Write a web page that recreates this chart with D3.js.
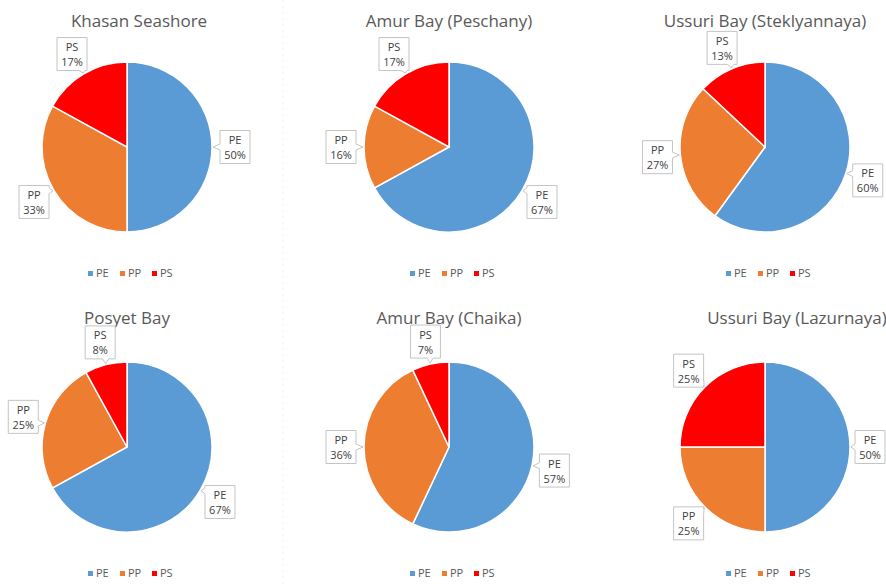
<head>
  <title>Pies</title>
  <style>
    body { margin: 0; background: white; font-family: "Open Sans", "Noto Sans", sans-serif; }
    svg .title { fill: #595959; font-size: 17px; }
    svg .lbl { fill: #404040; font-size: 11px; }
    svg .legend text { fill: #595959; font-size: 11px; }
    svg .callout { fill: white; stroke: #c4c4c4; stroke-width: 1; }
  </style>
</head>
<body>
  <div id="chart"></div>
  <script src="https://cdn.jsdelivr.net/npm/d3@7"></script>
  <script>
    // data
    const categories = ['PE', 'PP', 'PS'];
    const sites = ['Khasan Seashore', 'Amur Bay (Peschany)', 'Ussuri Bay (Steklyannaya)',
                   'Posyet Bay', 'Amur Bay (Chaika)', 'Ussuri Bay (Lazurnaya)'];
    const khasan = [50, 33, 17];
    const peschany = [67, 16, 17];
    const steklyannaya = [60, 27, 13];
    const posyet = [67, 25, 8];
    const chaika = [57, 36, 7];
    const lazurnaya = [50, 25, 25];
    const values = [khasan, peschany, steklyannaya, posyet, chaika, lazurnaya];
    const colors = ['#5b9bd5', '#ed7d31', '#ff0000'];

    // layout
    const width = 886, height = 584;
    const cols = [127, 449, 765];
    const rows = [147, 447];
    const radius = 85;
    const labelRadius = 108;
    const titleShift = [12, 0, 0, 0, 0, 32];
    const titleLift = [35, 38];

    let svg = d3.select('#chart').append('svg')
      .attr('width', width).attr('height', height);

    // faint chart border artefact
    svg.append('line')
      .attr('x1', 283).attr('x2', 283).attr('y1', 0).attr('y2', height)
      .attr('stroke', '#f0f0f0').attr('stroke-dasharray', '2,4');

    let color = d3.scaleOrdinal().domain(categories).range(colors);
    let pie = d3.pie().sort(null).value(d => d.v);
    let arc = d3.arc().innerRadius(0).outerRadius(radius);

    function calloutPath(x0, y0, w, h, tx, ty) {
      let x1 = x0 + w, y1 = y0 + h;
      let cx = x0 + w / 2, cy = y0 + h / 2;
      let dx = tx - cx, dy = ty - cy;
      let side;
      if (Math.abs(dx) / (w / 2) > Math.abs(dy) / (h / 2)) side = dx > 0 ? 'r' : 'l';
      else side = dy > 0 ? 'b' : 't';
      let clamp = (v, a, b) => Math.max(a, Math.min(b, v));
      let a = clamp(ty - 3, y0 + 2, y1 - 8);
      let b = clamp(tx - 3, x0 + 2, x1 - 8);
      let p = [[x0, y0]];
      if (side === 't') p.push([b, y0], [tx, ty], [b + 6, y0]);
      p.push([x1, y0]);
      if (side === 'r') p.push([x1, a], [tx, ty], [x1, a + 6]);
      p.push([x1, y1]);
      if (side === 'b') p.push([b + 6, y1], [tx, ty], [b, y1]);
      p.push([x0, y1]);
      if (side === 'l') p.push([x0, a + 6], [tx, ty], [x0, a]);
      return 'M' + p.map(q => q.join(',')).join('L') + 'Z';
    }

    sites.forEach((name, i) => {
      let row = Math.floor(i / 3);
      let cx = cols[i % 3], cy = rows[row];
      let g = svg.append('g').attr('transform', `translate(${cx},${cy})`);
      let data = categories.map((c, j) => ({ c: c, v: values[i][j] }));
      let arcs = pie(data);

      g.selectAll('path.slice')
        .data(arcs)
        .enter().append('path')
          .attr('class', 'slice')
          .attr('d', arc)
          .attr('fill', d => color(d.data.c))
          .attr('stroke', 'white')
          .attr('stroke-width', 1.5);

      g.append('text')
        .attr('class', 'title')
        .attr('x', titleShift[i]).attr('y', -radius - titleLift[row])
        .attr('text-anchor', 'middle')
        .text(name);

      // data labels
      let lw = 30, lh = 33;
      arcs.forEach(d => {
        let mid = (d.startAngle + d.endAngle) / 2;
        let lx = Math.sin(mid) * labelRadius, ly = -Math.cos(mid) * labelRadius;
        // keep the box inside the picture
        lx = Math.min(lx, width - 1 - cx - lw / 2);
        let tx = Math.sin(mid) * (radius + 1), ty = -Math.cos(mid) * (radius + 1);
        g.append('path')
          .attr('class', 'callout')
          .attr('d', calloutPath(lx - lw / 2, ly - lh / 2, lw, lh, tx, ty));
        let t = g.append('text').attr('class', 'lbl').attr('text-anchor', 'middle');
        t.append('tspan').attr('x', lx).attr('y', ly - 3).text(d.data.c);
        t.append('tspan').attr('x', lx).attr('y', ly + 12).text(d.data.v + '%');
      });

      // legend
      let leg = g.append('g').attr('class', 'legend')
        .attr('transform', `translate(-39,${radius + 45})`);
      categories.forEach((c, j) => {
        let item = leg.append('g').attr('transform', `translate(${j * 32},0)`);
        item.append('rect').attr('x', 0).attr('y', -6).attr('width', 5).attr('height', 5)
          .attr('fill', color(c));
        item.append('text').attr('x', 8).attr('y', 0).text(c);
      });
    });
  </script>
</body>
